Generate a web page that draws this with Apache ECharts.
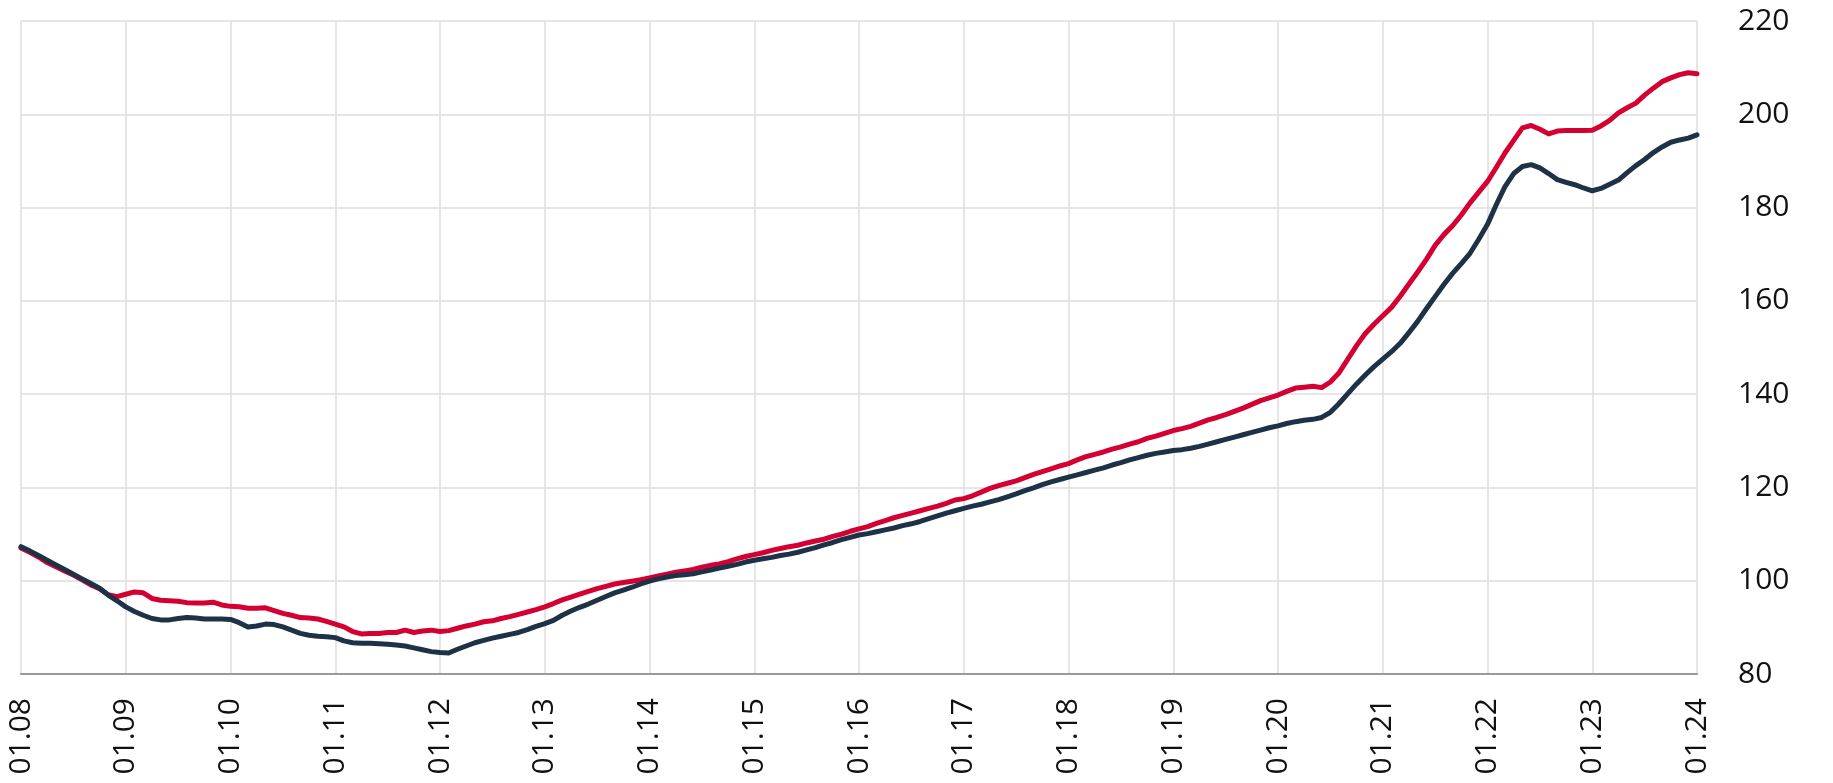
<!DOCTYPE html>
<html>
<head>
<meta charset="utf-8">
<title>Index chart</title>
<script src="https://cdn.jsdelivr.net/npm/echarts@6/dist/echarts.min.js"></script>
<style>
    html, body { margin: 0; padding: 0; background: #fff; }
    #main { width: 1833px; height: 783px; }
</style>
</head>
<body>
<div id="main"></div>
<script>
// monthly index values, 01.08 .. 01.24 (193 months)
var redValues = [
    107.0, 106.1, 105.1, 103.9, 103.0, 102.1, 101.2, 100.2, 99.1, 98.3, 97.0, 96.6,
    97.1, 97.6, 97.4, 96.2, 95.8, 95.7, 95.6, 95.3, 95.2, 95.2, 95.4, 94.8,
    94.5, 94.4, 94.1, 94.1, 94.2, 93.6, 93.0, 92.6, 92.1, 92.0, 91.8, 91.3,
    90.7, 90.1, 89.1, 88.6, 88.7, 88.7, 88.9, 88.9, 89.4, 88.9, 89.2, 89.4,
    89.1, 89.3, 89.8, 90.3, 90.7, 91.2, 91.4, 91.9, 92.3, 92.8, 93.3, 93.8,
    94.4, 95.1, 95.9, 96.5, 97.1, 97.7, 98.3, 98.8, 99.3, 99.6, 99.9, 100.2,
    100.6, 101.0, 101.4, 101.8, 102.1, 102.4, 102.9, 103.3, 103.6, 104.1, 104.7, 105.2,
    105.6, 106.0, 106.5, 106.9, 107.3, 107.6, 108.1, 108.5, 108.9, 109.5, 110.0, 110.6,
    111.1, 111.6, 112.3, 112.9, 113.5, 114.0, 114.5, 115.0, 115.5, 116.0, 116.6, 117.3,
    117.6, 118.2, 119.0, 119.8, 120.4, 120.9, 121.4, 122.1, 122.8, 123.4, 124.0, 124.6,
    125.1, 125.9, 126.6, 127.1, 127.6, 128.2, 128.7, 129.3, 129.8, 130.5, 131.0, 131.6,
    132.2, 132.6, 133.1, 133.8, 134.5, 135.0, 135.6, 136.3, 137.0, 137.8, 138.6, 139.2,
    139.8, 140.6, 141.3, 141.5, 141.7, 141.4, 142.6, 144.6, 147.5, 150.4, 153.0, 155.0,
    156.8, 158.6, 161.0, 163.6, 166.2, 168.9, 171.9, 174.2, 176.1, 178.4, 181.0, 183.3,
    185.6, 188.6, 191.7, 194.4, 197.1, 197.6, 196.8, 195.8, 196.4, 196.5, 196.5, 196.5,
    196.6, 197.5, 198.7, 200.3, 201.4, 202.4, 204.1, 205.6, 207.0, 207.8, 208.5, 208.9,
    208.7
];

var navyValues = [
    107.3, 106.4, 105.4, 104.4, 103.4, 102.4, 101.4, 100.4, 99.4, 98.4, 96.9, 95.7,
    94.4, 93.4, 92.6, 91.9, 91.6, 91.6, 91.9, 92.1, 92.0, 91.8, 91.8, 91.8,
    91.7, 91.0, 90.1, 90.3, 90.7, 90.6, 90.1, 89.4, 88.7, 88.3, 88.1, 88.0,
    87.8, 87.1, 86.7, 86.6, 86.6, 86.5, 86.4, 86.2, 86.0, 85.6, 85.2, 84.8,
    84.6, 84.5, 85.3, 86.0, 86.7, 87.2, 87.7, 88.1, 88.5, 88.9, 89.5, 90.2,
    90.8, 91.5, 92.6, 93.5, 94.3, 95.0, 95.8, 96.6, 97.4, 98.0, 98.6, 99.3,
    99.9, 100.4, 100.8, 101.1, 101.3, 101.5, 101.9, 102.3, 102.7, 103.1, 103.5, 104.0,
    104.4, 104.7, 105.0, 105.4, 105.7, 106.1, 106.6, 107.1, 107.7, 108.2, 108.8, 109.3,
    109.8, 110.1, 110.5, 110.9, 111.3, 111.8, 112.2, 112.7, 113.3, 113.9, 114.5, 115.0,
    115.5, 116.0, 116.4, 116.9, 117.4, 118.0, 118.6, 119.3, 119.9, 120.6, 121.2, 121.7,
    122.2, 122.7, 123.2, 123.7, 124.2, 124.8, 125.3, 125.9, 126.4, 126.9, 127.3, 127.6,
    127.9, 128.1, 128.4, 128.8, 129.3, 129.8, 130.3, 130.8, 131.3, 131.8, 132.3, 132.8,
    133.2, 133.7, 134.1, 134.4, 134.6, 135.0, 136.1, 138.0, 140.1, 142.2, 144.1, 145.9,
    147.5, 149.1, 150.9, 153.2, 155.6, 158.3, 160.9, 163.5, 165.9, 168.0, 170.2, 173.2,
    176.4, 180.6, 184.5, 187.3, 188.8, 189.2, 188.5, 187.3, 186.0, 185.4, 184.9, 184.2,
    183.6, 184.1, 185.0, 185.9, 187.5, 189.0, 190.3, 191.8, 193.0, 194.0, 194.5, 194.9,
    195.6
];

var startYear = 8, endYear = 24;

// month labels MM.YY
var months = [];
for (var y = startYear; y <= endYear; y++) {
    for (var m = 1; m <= 12; m++) {
        if (y == endYear && m > 1) break;
        months.push((m < 10 ? '0' + m : '' + m) + '.' + (y < 10 ? '0' + y : '' + y));
    }
}

var chart = echarts.init(document.getElementById('main'));

var fontFamily = '"Open Sans", "Noto Sans", sans-serif';

var option = {
    animation: false,
    grid: { left: 21, right: 136, top: 21, bottom: 109, containLabel: false },
    xAxis: {
        type: 'category',
        data: months,
        boundaryGap: false,
        axisLine: { lineStyle: { color: '#9a9a9a', width: 2 } },
        axisTick: { show: false },
        axisLabel: {
            interval: 11,
            rotate: 90,
            margin: 24,
            color: '#111',
            fontSize: 30,
            fontFamily: fontFamily
        },
        splitLine: {
            show: true,
            interval: 11,
            lineStyle: { color: '#dedede', width: 1.5 }
        }
    },
    yAxis: {
        type: 'value',
        position: 'right',
        min: 80,
        max: 220,
        interval: 20,
        axisLine: { show: false },
        axisTick: { show: false },
        axisLabel: {
            margin: 41,
            color: '#111',
            fontSize: 30,
            fontFamily: fontFamily
        },
        splitLine: { lineStyle: { color: '#dedede', width: 1.5 } }
    },
    series: [
        {
            type: 'line',
            data: redValues,
            showSymbol: false,
            lineStyle: { color: '#d50032', width: 5, cap: 'round', join: 'round' },
            itemStyle: { color: '#d50032' }
        },
        {
            type: 'line',
            data: navyValues,
            showSymbol: false,
            lineStyle: { color: '#1d3247', width: 5, cap: 'round', join: 'round' },
            itemStyle: { color: '#1d3247' }
        }
    ]
};

chart.setOption(option);
</script>
</body>
</html>
